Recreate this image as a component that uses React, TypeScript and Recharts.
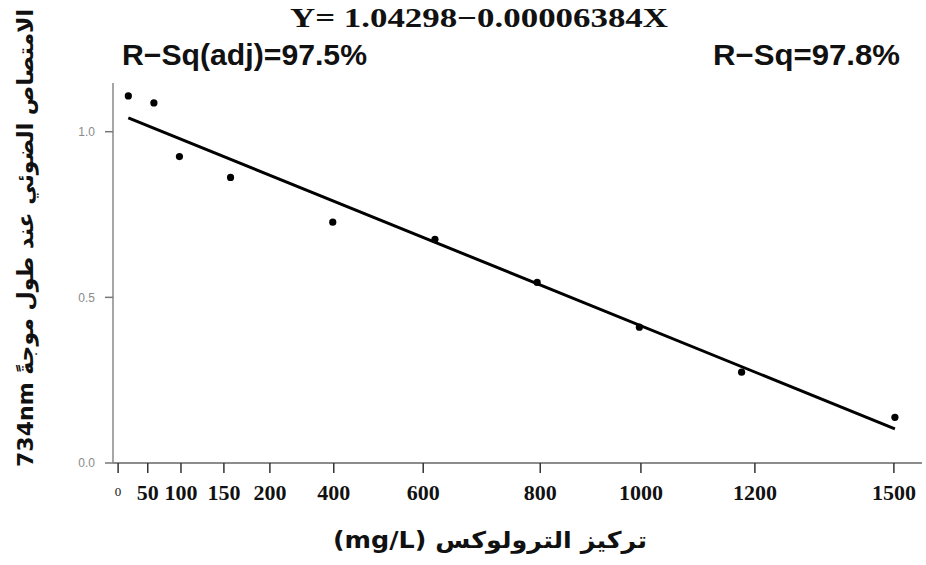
import React from 'react';
import {
  ScatterChart,
  Scatter,
  XAxis,
  YAxis,
  ReferenceLine,
} from 'recharts';

// Trolox concentration (mg/L) vs absorbance at 734nm
const concentration = [0, 50, 100, 200, 400, 600, 800, 1000, 1200, 1500];
const absorbance = [1.108, 1.087, 0.925, 0.862, 0.727, 0.675, 0.545, 0.41, 0.274, 0.138];

// fitted line end points
const fitX = [0, 1500];
const fitY = [1.042, 0.103];

// the x labels in the original sit where the author put them, not on a regular grid
const xTickAt = [-20, 38, 103, 187, 277, 402, 577, 806, 1003, 1226, 1498];
const xTickLabels = ['0', '50', '100', '150', '200', '400', '600', '800', '1000', '1200', '1500'];
const yTickAt = [0, 0.5, 1.0];
const yTickLabels = ['0.0', '0.5', '1.0'];

const equationText = 'Y= 1.04298\u22120.00006384X';
const rSqAdjText = 'R\u2212Sq(adj)=97.5%';
const rSqText = 'R\u2212Sq=97.8%';
const yAxisTitle = '734nm الامتصاص الضوئي عند طول موجةً';
const xAxisTitle = '(mg/L) تركيز الترولوكس';

const points = concentration.map((c, i) => ({ x: c, y: absorbance[i] }));

const XTick = (props: any) => {
  const { x, y, payload } = props;
  const label = xTickLabels[xTickAt.indexOf(payload.value)];
  const small = label === '0';
  return (
    <text
      x={x}
      y={y}
      dy={small ? 23 : 27}
      textAnchor="middle"
      fontFamily="'Liberation Serif', 'Times New Roman', serif"
      fontSize={small ? 13 : 22}
      fontWeight={small ? 400 : 700}
      fill="#111"
    >
      {label}
    </text>
  );
};

const Dot = (props: any) => <circle cx={props.cx} cy={props.cy} r={3.6} fill="#000" />;

const App: React.FC = () => {
  const xDomain = [-30, 1553];
  const yDomain = [0, 1.147];

  return (
    <div style={{ position: 'relative', width: 926, height: 565, background: '#fff' }}>
      <style>{'body{margin:0}'}</style>
      <ScatterChart width={926} height={565} margin={{ top: 83, right: 4, bottom: 62, left: 53 }}>
        <XAxis
          xAxisId="main"
          type="number"
          dataKey="x"
          domain={xDomain}
          ticks={xTickAt}
          interval={0}
          allowDataOverflow
          height={40}
          tickSize={10}
          tickMargin={0}
          tick={<XTick />}
          axisLine={{ stroke: '#666', strokeWidth: 1.5 }}
          tickLine={{ stroke: '#333', strokeWidth: 1.5 }}
        />
        <XAxis
          xAxisId="top"
          orientation="top"
          type="number"
          domain={xDomain}
          allowDataOverflow
          height={0}
          tick={false}
          tickLine={false}
          axisLine={{ stroke: '#888', strokeWidth: 1.5 }}
        />
        <YAxis
          yAxisId="main"
          type="number"
          dataKey="y"
          domain={yDomain}
          ticks={yTickAt}
          interval={0}
          allowDataOverflow
          width={60}
          tickSize={8}
          tickMargin={10}
          tickFormatter={(v: number) => yTickLabels[yTickAt.indexOf(v)]}
          tick={{ fill: '#8a8a8a', fontSize: 12, fontFamily: "'Liberation Sans', Arial, sans-serif" }}
          axisLine={{ stroke: '#888', strokeWidth: 1.5 }}
          tickLine={{ stroke: '#777', strokeWidth: 1.5 }}
        />
        <YAxis
          yAxisId="right"
          orientation="right"
          type="number"
          domain={yDomain}
          allowDataOverflow
          width={0}
          tick={false}
          tickLine={false}
          axisLine={{ stroke: '#888', strokeWidth: 1.5 }}
        />
        <ReferenceLine
          xAxisId="main"
          yAxisId="main"
          segment={[
            { x: fitX[0], y: fitY[0] },
            { x: fitX[1], y: fitY[1] },
          ]}
          stroke="#000"
          strokeWidth={3}
        />
        <Scatter
          xAxisId="main"
          yAxisId="main"
          data={points}
          shape={<Dot />}
          isAnimationActive={false}
        />
      </ScatterChart>

      <svg
        width={926}
        height={565}
        style={{ position: 'absolute', left: 0, top: 0, pointerEvents: 'none' }}
      >
        <text
          x={479}
          y={27}
          textAnchor="middle"
          fontFamily="'Liberation Serif', 'Times New Roman', serif"
          fontWeight={700}
          fontSize={28}
          textLength={378}
          lengthAdjust="spacingAndGlyphs"
          fill="#111"
        >
          {equationText}
        </text>
        <text
          x={122}
          y={65}
          fontFamily="'Liberation Sans', Arial, sans-serif"
          fontWeight={700}
          fontSize={29}
          textLength={245}
          lengthAdjust="spacingAndGlyphs"
          fill="#111"
        >
          {rSqAdjText}
        </text>
        <text
          x={713}
          y={65}
          fontFamily="'Liberation Sans', Arial, sans-serif"
          fontWeight={700}
          fontSize={29}
          textLength={187}
          lengthAdjust="spacingAndGlyphs"
          fill="#111"
        >
          {rSqText}
        </text>
        <text
          transform="translate(33, 238) rotate(-90)"
          textAnchor="middle"
          fontFamily="'DejaVu Sans', sans-serif"
          fontWeight={700}
          fontSize={22}
          textLength={458}
          lengthAdjust="spacingAndGlyphs"
          fill="#111"
        >
          {yAxisTitle}
        </text>
        <text
          x={490}
          y={548}
          textAnchor="middle"
          fontFamily="'DejaVu Sans', sans-serif"
          fontWeight={700}
          fontSize={23}
          textLength={314}
          lengthAdjust="spacingAndGlyphs"
          fill="#111"
        >
          {xAxisTitle}
        </text>
      </svg>
    </div>
  );
};

export default App;
